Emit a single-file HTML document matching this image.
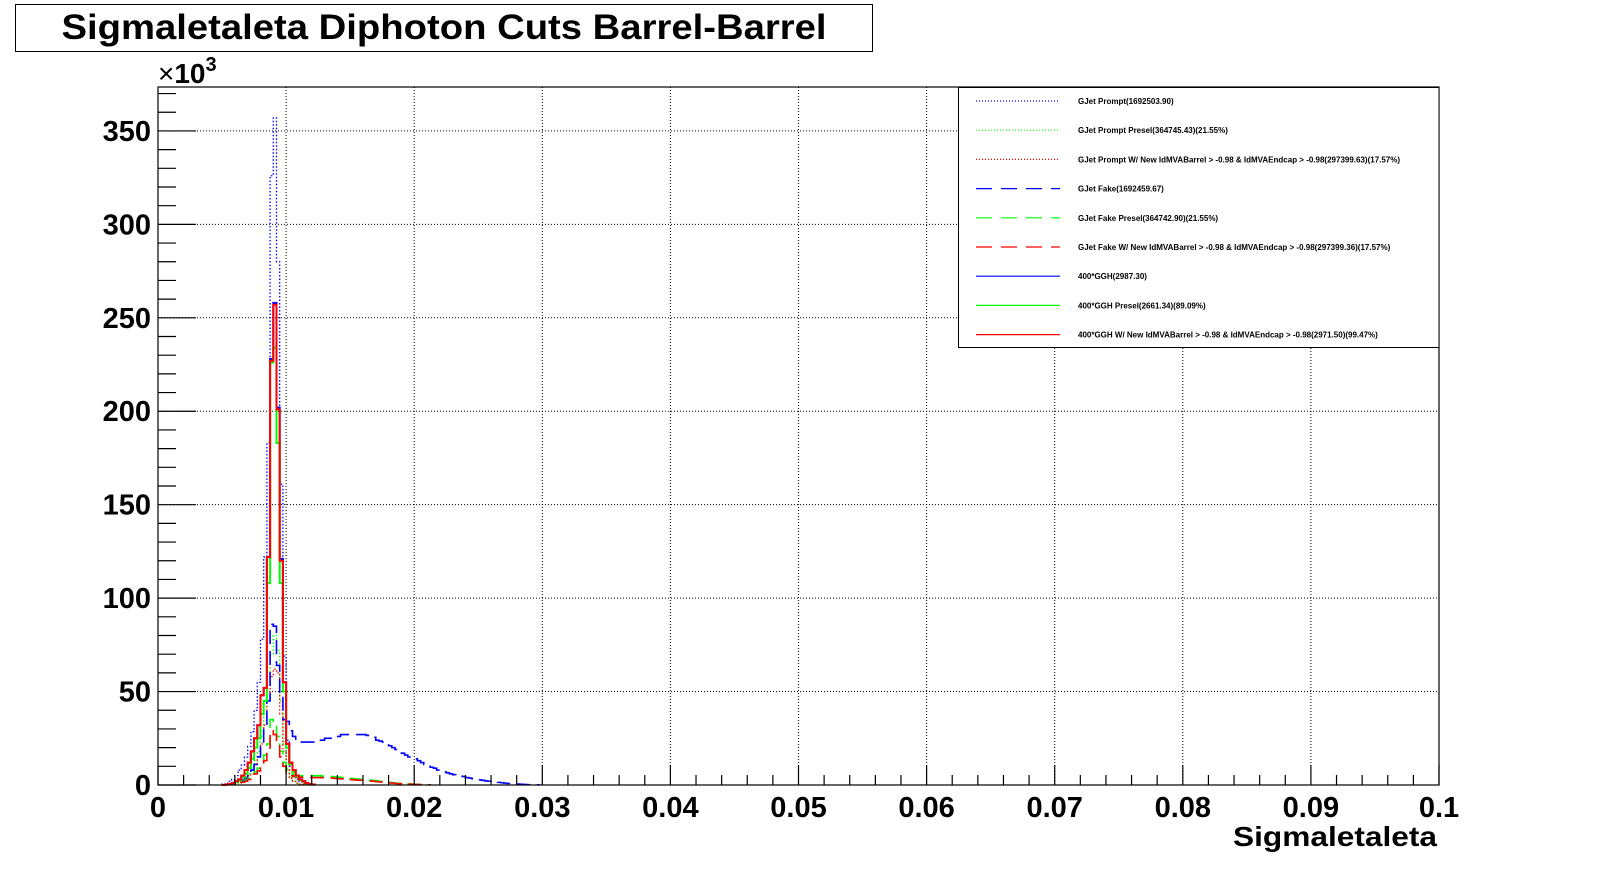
<!DOCTYPE html>
<html><head><meta charset="utf-8">
<style>
html,body{margin:0;padding:0;background:#fff;}
svg{display:block;font-family:"Liberation Sans",Arial,sans-serif;}
</style></head>
<body>
<svg id="chart" width="1598" height="874" viewBox="0 0 1598 874" xmlns="http://www.w3.org/2000/svg">
  <rect x="0" y="0" width="1598" height="874" fill="#fff"/>
  <g>
    <rect x="15.5" y="4.5" width="857" height="47" fill="#fff" stroke="#000" stroke-width="1"/>
    <text x="444" y="39" font-size="35" font-weight="bold" text-anchor="middle" textLength="765" lengthAdjust="spacingAndGlyphs">Sigmaletaleta Diphoton Cuts Barrel-Barrel</text>
  </g>
  <g id="grid"></g>
  <g id="series"></g>
  <g id="axes"></g>
  <text x="158" y="83" font-size="28" font-weight="bold"><tspan font-weight="normal">×</tspan>10<tspan dy="-12" font-size="20">3</tspan></text>
  <text x="1437" y="846" font-size="28" font-weight="bold" text-anchor="end" textLength="204" lengthAdjust="spacingAndGlyphs">Sigmaletaleta</text>
  <g id="legend"></g>
</svg>
<script>
// ---- data ----
const binWidth = 0.00025;
const startBin = 20;
const xTicks = [0,0.01,0.02,0.03,0.04,0.05,0.06,0.07,0.08,0.09,0.1];
const xTickLabels = ["0","0.01","0.02","0.03","0.04","0.05","0.06","0.07","0.08","0.09","0.1"];
const yTicks = [0,50,100,150,200,250,300,350];
const yTickLabels = ["0","50","100","150","200","250","300","350"];
const promptAll = [0.5,1,2,3,5,8,10.6,15,20.6,28.6,40,55,78,122,183,326,357,280,161,69,24,10,5,3,2,1,0.5];
const promptPresel = [0.1,0.2,0.4,0.7,1.2,2,3,4.5,6,9,13,18,26,38,55,70,80,72,45,22,9,4,2,1,0.5,0.3];
const promptNew = [0.1,0.2,0.3,0.6,1,1.6,2.5,3.8,5,7.5,11,15,22,32,46,58,62,60,38,18,8,3.5,2,1,0.5,0.3];
const fakeAll = [0.1,0.2,0.3,0.6,1,1.5,2.5,3.5,5,8,11,15,22,31,45,86,85,64,48,35,
 34,29,26,24,23,23,23,23,23,23,24,24,25,25,26,26,26,27,27,27,27,27,27,27,27,26.5,26,25.5,24,23.5,
 23,22,21,20,19,18,17,16,15,14.5,14,13,12,11,10,9.5,9,8,7.5,7,
 6.5,6,5.5,5,4.8,4.5,4,3.7,3.4,3.1,2.8,2.5,2.2,2,1.8,1.6,1.4,1.2,1,0.8,
 0.7,0.6,0.5,0.4,0.3,0.2,0.15,0.1,0.1];
const fakePresel = [0.1,0.2,0.3,0.5,0.8,1.2,1.8,2.5,3.5,5,7,9,12,16,22,35,33,26,18,12,8,6,5.5,5,5,5,5,5,5,5,5,4.8,4.8,4.5,4.5,4.3,4.2,4,4,3.8,3.5,3.3,3.2,3,3,2.8,2.6,2.4,2.2,2,1.8,1.6,1.4,1.2,1,0.9,0.8,0.7,0.6,0.5,0.4,0.3,0.2,0.15,0.1];
const fakeNew = [0.1,0.15,0.25,0.4,0.7,1,1.5,2,3,4,6,7.5,10,13,18,29,27,21,15,10,6.5,5,4.5,4.1,4.1,4.1,4,4,4,4,4,3.9,3.9,3.7,3.7,3.5,3.4,3.3,3.3,3.1,2.9,2.7,2.6,2.5,2.5,2.3,2.1,2,1.8,1.6,1.5,1.3,1.1,1,0.8,0.7,0.6,0.5,0.5,0.4,0.3,0.25,0.15,0.1,0.1];
const gghAll = [0,0.3,0.5,1,2,3,5,8,12,18,25,32,48,52,122,228,258,202,121,55,22,12,8,5,3,2,1,0.5,0.3];
const gghPresel = [0,0.2,0.4,0.8,1.5,2.5,4,6,9,14,20,25,38,45,108,226,234,183,108,50,20,11,7,4.5,2.7,1.8,0.9,0.4,0.2];
const gghNew = [0,0.3,0.5,1,2,3,5,8,12,18,25,32,48,52,122,227,257,201,120,55,22,12,8,5,3,2,1,0.5,0.3];
const legendLabels = ["GJet Prompt(1692503.90)","GJet Prompt Presel(364745.43)(21.55%)","GJet Prompt W/ New IdMVABarrel > -0.98 & IdMVAEndcap > -0.98(297399.63)(17.57%)","GJet Fake(1692459.67)","GJet Fake Presel(364742.90)(21.55%)","GJet Fake W/ New IdMVABarrel > -0.98 & IdMVAEndcap > -0.98(297399.36)(17.57%)","400*GGH(2987.30)","400*GGH Presel(2661.34)(89.09%)","400*GGH W/ New IdMVABarrel > -0.98 & IdMVAEndcap > -0.98(2971.50)(99.47%)"];

// ---- layout ----
const X0=158, X1=1439, YB=785, YT=87, YMAX=373.5;
const NS="http://www.w3.org/2000/svg";
function xs(v){return X0+(v/0.1)*(X1-X0);}
function ys(v){return YB-(v/YMAX)*(YB-YT);}
function mk(tag,attrs,parent){const e=document.createElementNS(NS,tag);for(const k in attrs)e.setAttribute(k,attrs[k]);parent.appendChild(e);return e;}
const grid=document.getElementById('grid'), axes=document.getElementById('axes'), ser=document.getElementById('series'), leg=document.getElementById('legend');

// grid
xTicks.forEach((t,i)=>{ if(i===0||i===xTicks.length-1) return;
  const l=mk('line',{x1:xs(t),x2:xs(t),y1:YT,y2:YB,stroke:'#000','stroke-width':1,'stroke-dasharray':'1,2'},grid);
  
  
});
yTicks.forEach((t,i)=>{ if(i===0) return;
  const l=mk('line',{x1:X0,x2:X1,y1:ys(t),y2:ys(t),stroke:'#000','stroke-width':1,'stroke-dasharray':'1,2'},grid);
  
  
});

// series
const series=[
 {d:promptAll,c:'#0000ff',dash:'1.5,2',w:1.3,n:'gjet-prompt'},
 {d:promptPresel,c:'#00ff00',dash:'1.5,2',w:1.3,n:'gjet-prompt-presel'},
 {d:promptNew,c:'#ff0000',dash:'1.5,2',w:1.3,n:'gjet-prompt-new'},
 {d:fakeAll,c:'#0000ff',dash:'14,7',w:1.6,n:'gjet-fake'},
 {d:fakePresel,c:'#00ff00',dash:'14,7',w:1.6,n:'gjet-fake-presel'},
 {d:fakeNew,c:'#ff0000',dash:'14,7',w:1.6,n:'gjet-fake-new'},
 {d:gghAll,c:'#0000ff',dash:'',w:2,n:'ggh'},
 {d:gghPresel,c:'#00ff00',dash:'',w:2,n:'ggh-presel'},
 {d:gghNew,c:'#ff0000',dash:'',w:2,n:'ggh-new'}
];
series.forEach(s=>{
  let x=xs(startBin*binWidth);
  let p='M'+x.toFixed(2)+','+ys(0).toFixed(2);
  s.d.forEach((v,i)=>{
    p+=' V'+ys(v).toFixed(2)+' H'+xs((startBin+i+1)*binWidth).toFixed(2);
  });
  p+=' V'+ys(0).toFixed(2);
  const e=mk('path',{d:p,fill:'none',stroke:s.c,'stroke-width':s.w},ser);
  if(s.dash) e.setAttribute('stroke-dasharray',s.dash);
  
  
});

// axes
mk('rect',{x:X0,y:YT,width:X1-X0,height:YB-YT,fill:'none',stroke:'#000','stroke-width':1.2},axes);
for(let i=0;i<=50;i++){
  const v=i*0.002, x=xs(v), major=(i%5===0);
  const t=mk('line',{x1:x,x2:x,y1:YB,y2:YB-(major?20:10),stroke:'#000','stroke-width':1.2},axes);
  
  
}
for(let v=0;v<=370;v+=10){
  const y=ys(v), major=(v%50===0);
  const t=mk('line',{x1:X0,x2:X0+(major?38:18),y1:y,y2:y,stroke:'#000','stroke-width':1.2},axes);
  
  
}
xTicks.forEach((t,i)=>{
  const e=mk('text',{x:xs(t),y:YB+32,'font-size':29,'font-weight':'bold','text-anchor':'middle'},axes);
  e.textContent=xTickLabels[i];
  
  
});
yTicks.forEach((t,i)=>{
  const e=mk('text',{x:151,y:ys(t)+10,'font-size':29,'font-weight':'bold','text-anchor':'end'},axes);
  e.textContent=yTickLabels[i];
  
  
});

// legend
const lb=mk('rect',{x:958.5,y:87.5,width:X1-958.5,height:260,fill:'#fff',stroke:'#000','stroke-width':1},leg);


series.forEach((s,i)=>{
  const y=101+i*29.2;
  const l=mk('line',{x1:976,x2:1060,y1:y,y2:y,stroke:s.c,'stroke-width':1.2},leg);
  if(s.dash) l.setAttribute('stroke-dasharray', s.dash==='14,7'?'16,9':'1,2');
  
  
  const t=mk('text',{x:1078,y:y+3,'font-size':8,'font-weight':'bold'},leg);
  t.textContent=legendLabels[i];
  
  
});
</script>
</body></html>
